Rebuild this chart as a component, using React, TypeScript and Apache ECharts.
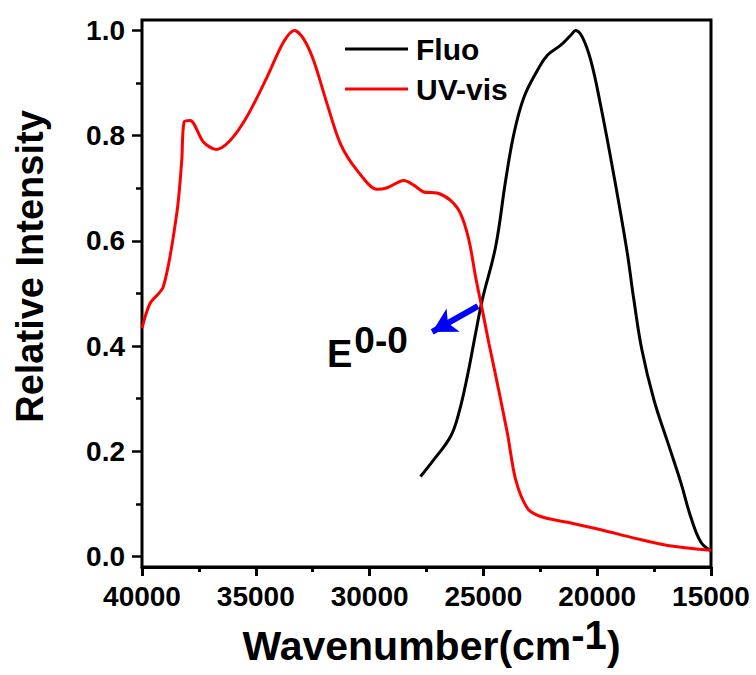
import React, { useEffect, useRef } from "react";
import * as echarts from "echarts";

// ---- data ----
const uvWavenumber = [
  40000, 39648, 39062, 38473, 38253, 38151, 37887, 37302, 36743, 36127, 35392,
  34512, 33781, 33300, 32901, 32460, 31871, 31285, 30550, 29670, 29230, 28499,
  28058, 27618, 27030, 26444, 26004, 25638, 25344, 25049, 24757, 24537, 23949,
  23583, 23070, 22483, 21308, 19841, 18375, 16906, 15000,
];
const uvIntensity = [
  0.434, 0.481, 0.513, 0.652, 0.753, 0.826, 0.829, 0.788, 0.774, 0.791, 0.836,
  0.911, 0.978, 1.0, 0.984, 0.943, 0.861, 0.785, 0.734, 0.698, 0.701, 0.715,
  0.706, 0.693, 0.691, 0.677, 0.652, 0.602, 0.532, 0.469, 0.405, 0.36, 0.235,
  0.146, 0.092, 0.076, 0.065, 0.051, 0.035, 0.021, 0.012,
];
const fluoWavenumber = [
  27764, 27178, 26444, 26078, 25709, 25344, 25049, 24463, 24023, 23658, 23218,
  22630, 22190, 21603, 21162, 20942, 20647, 20281, 19841, 19269, 18697, 18389,
  18037, 17509, 16893, 16321, 15881, 15441, 15000,
];
const fluoIntensity = [
  0.152, 0.184, 0.228, 0.273, 0.342, 0.424, 0.488, 0.589, 0.715, 0.804, 0.873,
  0.924, 0.953, 0.972, 0.991, 1.0, 0.987, 0.943, 0.856, 0.725, 0.582, 0.488,
  0.393, 0.298, 0.216, 0.14, 0.074, 0.027, 0.011,
];
const seriesNames = ["Fluo", "UV-vis"];
const xRange = [15000, 40000];
const xTickInterval = 5000;
const yRange = [0, 1];
const yTickInterval = 0.2;
const arrowFrom = [25240, 0.476];
const arrowTo = [27249, 0.427];
const annotationMain = "E";
const annotationSup = "0-0";
const xTitleMain = "Wavenumber(cm";
const xTitleSup = "-1";
const xTitleEnd = ")";
const yTitle = "Relative Intensity";

const FONT = '"Liberation Sans", Arial, Helvetica, sans-serif';

export default function App() {
  const ref = useRef<HTMLDivElement>(null);

  useEffect(() => {
    document.body.style.margin = "0";
    if (!ref.current) return;
    const chart = echarts.init(ref.current, null, { renderer: "svg" });

    const uvData = uvWavenumber.map((x, i) => [x, uvIntensity[i]]);
    const fluoData = fluoWavenumber.map((x, i) => [x, fluoIntensity[i]]);

    const option: any = {
      animation: false,
      backgroundColor: "#ffffff",
      textStyle: { fontFamily: FONT },
      grid: [
        { left: 142, right: 45, top: 30.5, bottom: 118.5, show: false },
        {
          left: 142,
          right: 45,
          top: 20,
          bottom: 108,
          show: true,
          borderColor: "#000",
          borderWidth: 3,
          backgroundColor: "transparent",
        },
      ],
      legend: {
        data: seriesNames,
        orient: "vertical",
        left: 345,
        top: 34,
        padding: 0,
        itemWidth: 63,
        itemHeight: 3,
        itemGap: 10,
        icon: "rect",
        textStyle: {
          fontSize: 30,
          fontWeight: "bold",
          color: "#000",
          lineHeight: 30,
          fontFamily: FONT,
          padding: [0, 0, 0, 3],
        },
      },
      xAxis: [
        {
          gridIndex: 0,
          type: "value",
          min: xRange[0],
          max: xRange[1],
          interval: xTickInterval,
          inverse: true,
          offset: 10.5,
          axisLine: { show: true, onZero: false, lineStyle: { color: "#000", width: 3 } },
          axisTick: { show: true, length: 9, lineStyle: { color: "#000", width: 3 } },
          minorTick: { show: true, splitNumber: 2, length: 5, lineStyle: { color: "#000", width: 3 } },
          splitLine: { show: false },
          axisLabel: {
            color: "#000",
            fontSize: 28,
            fontWeight: "bold",
            fontFamily: FONT,
            margin: 15,
            formatter: (v: number) => String(v),
          },
          name: `{a|${xTitleMain}}{s|${xTitleSup}}{a|${xTitleEnd}}`,
          nameLocation: "middle",
          nameGap: 47,
          nameTextStyle: {
            padding: [0, 0, 0, 10],
            rich: {
              a: {
                fontSize: 41,
                fontWeight: "bold",
                color: "#000",
                fontFamily: FONT,
                lineHeight: 42,
                verticalAlign: "bottom",
              },
              s: {
                fontSize: 40,
                fontWeight: "bold",
                color: "#000",
                fontFamily: FONT,
                lineHeight: 42,
                verticalAlign: "bottom",
                padding: [0, 0, 12, 0],
              },
            },
          },
        },
        { gridIndex: 1, type: "value", show: false, min: 0, max: 1 },
      ],
      yAxis: [
        {
          gridIndex: 0,
          type: "value",
          min: yRange[0],
          max: yRange[1],
          interval: yTickInterval,
          axisLine: { show: false },
          axisTick: { show: true, length: 10, lineStyle: { color: "#000", width: 2.5 } },
          minorTick: { show: true, splitNumber: 2, length: 6, lineStyle: { color: "#000", width: 2.5 } },
          splitLine: { show: false },
          axisLabel: {
            color: "#000",
            fontSize: 28,
            fontWeight: "bold",
            fontFamily: FONT,
            margin: 17,
            formatter: (v: number) => v.toFixed(1),
          },
          name: yTitle,
          nameLocation: "middle",
          nameGap: 92,
          nameTextStyle: {
            fontSize: 38,
            fontWeight: "bold",
            color: "#000",
            fontFamily: FONT,
            lineHeight: 40,
            padding: [0, 0, 0, 54],
          },
        },
        { gridIndex: 1, type: "value", show: false, min: 0, max: 1 },
      ],
      series: [
        {
          name: seriesNames[0],
          type: "line",
          xAxisIndex: 0,
          yAxisIndex: 0,
          data: fluoData,
          showSymbol: false,
          symbol: "none",
          smooth: 0.4,
          color: "#000",
          lineStyle: { color: "#000", width: 3 },
        },
        {
          name: seriesNames[1],
          type: "line",
          xAxisIndex: 0,
          yAxisIndex: 0,
          data: uvData,
          showSymbol: false,
          symbol: "none",
          smooth: 0.3,
          color: "#ff0000",
          lineStyle: { color: "#ff0000", width: 3 },
          markLine: {
            silent: true,
            symbol: ["none", "arrow"],
            symbolSize: [20, 24],
            label: { show: false },
            lineStyle: { color: "#0000ff", width: 6, type: "solid" },
            data: [[{ coord: arrowFrom }, { coord: arrowTo }]],
          },
        },
      ],
      graphic: [
        {
          type: "text",
          left: 327,
          top: 322,
          style: {
            text: `{e|${annotationMain}}{s|${annotationSup}}`,
            rich: {
              e: {
                fontSize: 38,
                fontWeight: "bold",
                fill: "#000",
                fontFamily: FONT,
                lineHeight: 38,
                verticalAlign: "bottom",
              },
              s: {
                fontSize: 37,
                fontWeight: "bold",
                fill: "#000",
                fontFamily: FONT,
                lineHeight: 38,
                verticalAlign: "bottom",
                padding: [0, 0, 14, 2],
              },
            },
          },
        },
      ],
    };

    chart.setOption(option);
    return () => chart.dispose();
  }, []);

  return <div ref={ref} style={{ width: 756, height: 675 }} />;
}
